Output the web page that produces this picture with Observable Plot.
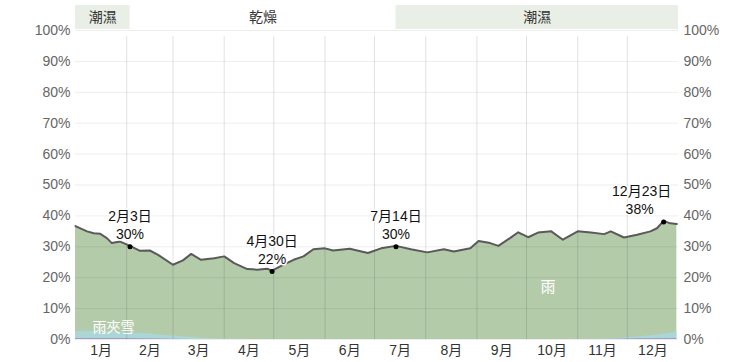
<!DOCTYPE html>
<html><head><meta charset="utf-8">
<script src="https://cdn.jsdelivr.net/npm/d3@7"></script>
<script src="https://cdn.jsdelivr.net/npm/@observablehq/plot@0.6"></script>
<style>
body{margin:0;background:#fff}
#chart svg{font-family:"Liberation Sans","Noto Sans CJK TC",sans-serif;background:#fff}
</style>
</head><body><div id="chart"></div>
<script>
// Day-of-year (0 = 1月1日) and probability (%) of rain (total precipitation line)
const rainDays = [0,7,11,15,19,22,27,33,39,45,50,59,65,70,76,84,90,96,104,110,116,119,126,132,138,144,151,156,166,177,185,194,203,213,223,229,239,244,251,256,263,268,274,280,288,295,304,312,320,324,332,340,348,352,356,360,364];
const rainPct  = [36.7,35,34.4,34.2,32.8,31.2,31.7,30.3,28.7,28.8,27.4,24.2,25.6,27.7,25.8,26.3,26.9,24.7,22.8,22.6,22.9,22.3,24.2,25.8,26.9,29.2,29.5,28.8,29.4,28,29.5,30.3,29.2,28.2,29.2,28.5,29.5,31.9,31.2,30.3,32.8,34.7,33.1,34.6,35,32.3,35,34.6,34.1,35,33,33.9,35,36,38.4,37.6,37.4];
// 雨夾雪 (mixed rain and snow)
const mixDays = [0,10,20,31,45,55,65,75,85,95,105,300,318,330,340,350,358,364];
const mixPct  = [2.6,2.7,2.6,2.3,1.8,1.3,0.9,0.5,0.2,0.05,0,0,0.1,0.4,0.8,1.3,1.9,2.4];
// 雪 (snow)
const snowDays = [0,30,50,70,320,340,364];
const snowPct  = [0.35,0.3,0.2,0,0,0.25,0.35];

const monthNames = ["1月","2月","3月","4月","5月","6月","7月","8月","9月","10月","11月","12月"];
const monthStarts = [0,31,59,90,120,151,181,212,243,273,304,334,365];
const yTicks = [0,10,20,30,40,50,60,70,80,90,100];

const seasonLabels = ["潮濕","乾燥","潮濕"];
const seasonStart = [0,33,194];
const seasonEnd = [33,194,365];
const seasonHumid = [true,false,true];

const annoDays = [33,119,194,356];
const annoDates = ["2月3日","4月30日","7月14日","12月23日"];
const annoPct = [30,22,30,38];

const rain = rainDays.map((d,i)=>({day:d,pct:rainPct[i]}));
const mix = mixDays.map((d,i)=>({day:d,pct:mixPct[i]}));
const snow = snowDays.map((d,i)=>({day:d,pct:snowPct[i]}));
const seasons = seasonLabels.map((l,i)=>({label:l,start:seasonStart[i],end:seasonEnd[i],humid:seasonHumid[i]}));
const annos = annoDays.map((d,i)=>({day:d,pct:annoPct[i],date:annoDates[i],val:annoPct[i]+"%"}));
const monthMids = monthNames.map((m,i)=>(monthStarts[i]+monthStarts[i+1])/2);
const inner = d=>d.day<340, edge = d=>d.day>=340;
const labelStyle = {fill:"#111",fontSize:14,stroke:"#fff",strokeWidth:3};

const chart = Plot.plot({
  width:753, height:362,
  marginLeft:75, marginRight:75, marginTop:30, marginBottom:23,
  x:{domain:[0,365], label:null},
  y:{domain:[0,100], label:null},
  marks:[
    Plot.areaY(rain,{x:"day",y:"pct",fill:"#b4cbaa"}),
    Plot.areaY(mix,{x:"day",y:"pct",fill:"#acd5d6"}),
    Plot.areaY(snow,{x:"day",y:"pct",fill:"#a09ad2"}),
    Plot.ruleY(yTicks,{stroke:"#000",strokeOpacity:0.07}),
    Plot.ruleX(monthStarts.slice(1,12),{y1:0,y2:100,insetBottom:-6,stroke:"#000",strokeOpacity:0.12}),
    Plot.lineY(rain,{x:"day",y:"pct",stroke:"#5a5a5a",strokeWidth:2}),
    Plot.text(["雨"],{x:286,y:17,text:d=>d,fill:"#fff",fontSize:15}),
    Plot.text(["雨夾雪"],{x:23,y:3.8,text:d=>d,fill:"#fff",fontSize:14}),
    Plot.text(annos,{filter:inner,x:"day",y:"pct",text:"date",dy:-30,...labelStyle}),
    Plot.text(annos,{filter:inner,x:"day",y:"pct",text:"val",dy:-12,...labelStyle}),
    Plot.text(annos,{filter:edge,x:"day",y:"pct",text:"date",dy:-31,dx:-22,...labelStyle}),
    Plot.text(annos,{filter:edge,x:"day",y:"pct",text:"val",dy:-13,dx:-24,...labelStyle}),
    Plot.dot(annos,{x:"day",y:"pct",r:2.5,fill:"#000"}),
    Plot.rect(seasons,{x1:"start",x2:"end",y1:100,y2:100,insetTop:-25,insetBottom:1,
      fill:d=>d.humid?"#e9efe6":"none"}),
    Plot.text(seasons,{x:d=>(d.start+d.end)/2,y:100,dy:-13,text:"label",fill:"#333",fontSize:14}),
    Plot.axisY({anchor:"left",ticks:yTicks,tickSize:0,tickPadding:5,tickFormat:d=>d+"%",fontSize:14,color:"#666",label:null}),
    Plot.axisY({anchor:"right",ticks:yTicks,tickSize:0,tickPadding:5,tickFormat:d=>d+"%",fontSize:14,color:"#666",label:null}),
    Plot.axisX({ticks:monthMids,tickSize:0,tickPadding:6,tickFormat:(d,i)=>monthNames[i],fontSize:14,color:"#333",label:null})
  ]
});
document.getElementById("chart").appendChild(chart);
</script>
</body></html>
